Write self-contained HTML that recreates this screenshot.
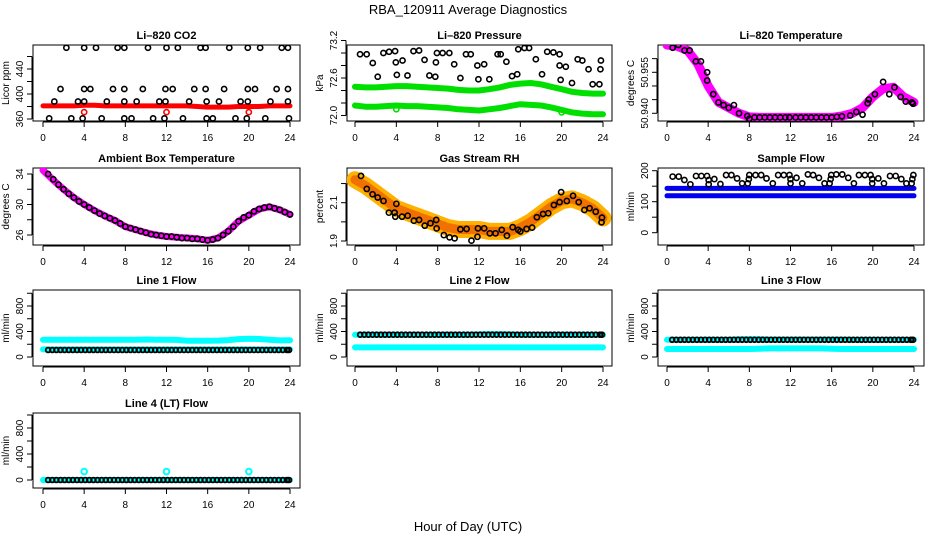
<!DOCTYPE html>
<html><head><meta charset="utf-8"><style>
html,body{margin:0;padding:0;background:#fff;}
svg{display:block;font-family:"Liberation Sans",sans-serif;}
</style></head><body>
<svg id="chart" width="936" height="540" viewBox="0 0 936 540" xmlns="http://www.w3.org/2000/svg">
<text x="468" y="14" text-anchor="middle" font-size="13">RBA_120911  Average Diagnostics</text>
<text x="468" y="531" text-anchor="middle" font-size="13">Hour of Day (UTC)</text>
</svg>
<script>
// ---------- data ----------
const hours = [0,1,2,3,4,5,6,7,8,9,10,11,12,13,14,15,16,17,18,19,20,21,22,23,24];
const xTicks = [0,4,8,12,16,20,24];

const co2Band = [381,381,381,381,382,382,381,381,381,381,381,381,381,381,381,380,379,379,379,380,380,380,381,381,381];
const co2T = [2.27,4.0,5.15,7.25,7.9,10.2,12.0,13.1,15.3,15.8,18.1,19.9,21.1,23.2,23.8,
  1.7,4.0,4.6,6.8,7.9,9.7,11.9,12.6,14.7,15.8,17.6,19.9,20.6,22.7,23.8,
  1.1,3.4,4.0,6.2,7.9,9.1,11.3,11.9,14.2,15.9,17.1,19.2,19.9,22.1,23.8,
  0.6,2.75,3.85,5.7,7.9,8.6,10.7,11.8,13.6,15.9,16.5,18.7,19.8,21.6,23.9];
const co2V = [474,474,474,474,474,474,474,474,474,474,474,474,474,474,474,
  408,408,408,408,408,408,408,408,408,408,408,408,408,408,408,
  388,388,388,388,388,388,388,388,388,388,388,388,388,388,388,
  361,361,361,361,361,361,361,361,361,361,361,361,361,361,361];
const co2OutT = [4,12,20];
const co2OutV = [371,371,371];

const presUpper = [72.46,72.45,72.45,72.46,72.47,72.47,72.46,72.45,72.44,72.43,72.41,72.40,72.40,72.42,72.45,72.49,72.51,72.52,72.50,72.46,72.42,72.38,72.36,72.35,72.35];
const presLower = [72.16,72.14,72.14,72.15,72.16,72.15,72.15,72.14,72.13,72.12,72.10,72.09,72.08,72.10,72.12,72.15,72.18,72.17,72.16,72.13,72.09,72.05,72.03,72.02,72.02];
const presT = [0.49,1.13,1.72,2.2,2.75,3.3,3.88,3.95,4.05,4.6,5.08,5.66,6.2,6.73,7.2,7.77,7.93,7.83,8.48,9.13,9.6,10.2,10.74,11.2,11.84,11.94,12.5,13.0,13.8,14.1,14.65,15.2,15.7,15.8,16.4,16.85,17.5,18.1,18.6,19.2,19.8,19.8,19.9,20.4,21.0,21.55,22.0,22.6,23.0,23.65,23.75,23.8];
const presV = [72.98,72.98,72.84,72.62,73.0,73.02,73.03,72.85,72.65,72.88,72.64,73.03,73.04,72.89,72.64,72.62,73.0,72.85,73.0,73.0,72.82,72.6,72.98,72.98,72.8,72.58,72.82,72.58,72.98,72.98,72.86,72.63,72.66,73.06,73.08,73.08,72.9,72.66,73.02,73.01,72.98,72.8,72.57,72.78,72.52,72.9,72.88,72.74,72.5,72.5,72.74,72.88];
const presOutT = [4,20];
const presOutV = [72.1,72.05];

const tempBand = [50.965,50.9645,50.963,50.958,50.950,50.944,50.942,50.940,50.9387,50.9385,50.9385,50.9385,50.9385,50.9385,50.9385,50.9385,50.9385,50.939,50.940,50.942,50.946,50.949,50.9495,50.946,50.944];
const tempT = [0.55,1.1,1.7,2.2,2.8,3.3,3.9,3.9,4.5,5.0,5.5,6.0,6.5,7.0,7.8,8.0,8.5,9.0,9.5,10.0,10.5,11.0,11.5,11.9,12.5,13.0,13.5,14.0,14.5,15.0,15.5,16.0,16.5,17.0,17.8,18.4,19.0,19.5,19.6,20.2,21.0,21.6,22.1,22.7,23.2,23.8,23.9];
const tempV = [50.964,50.965,50.963,50.963,50.959,50.959,50.955,50.952,50.947,50.944,50.943,50.942,50.943,50.940,50.939,50.938,50.9385,50.9385,50.9385,50.9385,50.9385,50.9385,50.9385,50.9385,50.9385,50.9385,50.9385,50.9385,50.9385,50.9385,50.9385,50.9385,50.9387,50.9389,50.9392,50.9405,50.9395,50.9437,50.945,50.947,50.9515,50.947,50.9495,50.946,50.9443,50.944,50.9435];

const ambBand = [34.5,33.2,32.0,30.9,30.0,29.2,28.5,27.9,27.1,26.7,26.3,26.0,25.8,25.7,25.6,25.5,25.3,25.6,26.5,27.8,28.6,29.4,29.7,29.3,28.7];
const ambT = [0.5,1,1.5,2,2.5,3,3.5,4,4.5,5,5.5,6,6.5,7,7.5,8,8.5,9,9.5,10,10.5,11,11.5,12,12.5,13,13.5,14,14.5,15,15.5,16,16.5,17,17.5,18,18.5,19,19.5,20,20.5,21,21.5,22,22.5,23,23.5,24];
const ambV = [34.0,33.3,32.6,32.0,31.4,30.9,30.4,30.0,29.6,29.2,28.8,28.5,28.2,27.9,27.5,27.1,26.9,26.7,26.5,26.3,26.1,26.0,25.9,25.8,25.8,25.7,25.6,25.6,25.5,25.5,25.4,25.3,25.4,25.6,26.0,26.5,27.1,27.8,28.3,28.6,29.1,29.4,29.6,29.7,29.5,29.3,29.0,28.7];

const rhBand = [2.22,2.19,2.15,2.11,2.07,2.05,2.03,2.01,1.99,1.97,1.96,1.96,1.96,1.95,1.95,1.95,1.97,2.0,2.04,2.08,2.11,2.12,2.1,2.07,2.02];
const rhT = [0.58,1.14,1.7,2.2,2.76,3.28,3.83,3.9,4.0,4.55,5.1,5.7,6.2,6.75,7.3,7.86,7.9,8.6,9.15,9.64,10.2,10.8,11.27,11.85,11.9,12.5,13.05,13.6,14.2,14.7,15.26,15.8,16.0,16.6,17.14,17.6,18.2,18.7,19.25,19.8,19.95,20.5,21.1,21.65,22.2,22.7,23.3,23.86,23.9];
const rhV = [2.24,2.172,2.144,2.127,2.109,2.048,2.048,2.027,2.094,2.027,2.032,2.006,2.01,1.98,1.993,2.01,1.966,1.931,1.919,1.914,1.961,1.963,1.902,1.922,1.966,1.966,1.94,1.94,1.958,1.928,1.972,1.958,1.95,1.963,1.97,2.024,2.041,2.045,2.088,2.103,2.155,2.109,2.136,2.103,2.062,2.071,2.053,1.998,2.022];

const sfUpper = [143,143,143,143,143,143,143,143,143,143,143,143,143,143,143,143,143,143,143,143,143,143,143,143,143];
const sfLower = [119,119,119,119,119,119,119,119,119,119,119,119,119,119,119,119,119,119,119,119,119,119,119,119,119];
const sfT = [0.55,1.14,1.69,2.27,2.82,3.34,3.89,4.05,4.05,4.6,5.19,5.74,6.26,6.81,7.3,7.85,7.95,8.0,8.6,9.15,9.67,10.28,10.8,11.35,11.9,12.0,12.0,12.58,13.14,13.69,14.2,14.76,15.31,15.8,15.9,15.96,16.45,17.03,17.61,18.16,18.65,19.23,19.78,19.94,19.94,20.53,21.08,21.67,22.22,22.77,23.26,23.77,23.84,23.94];
const sfV = [181,181,170,156,183,183,183,170,156,173,157,186,186,175,159,159,173,186,186,186,175,159,186,186,186,173,159,177,159,188,186,177,159,159,173,186,188,188,177,159,186,186,186,173,159,175,159,183,183,173,159,159,173,186];

const flowT = [0.5,0.9,1.3,1.7,2.1,2.5,2.9,3.3,3.7,4.1,4.5,4.9,5.3,5.7,6.1,6.5,6.9,7.3,7.7,8.1,8.5,8.9,9.3,9.7,10.1,10.5,10.9,11.3,11.7,12.1,12.5,12.9,13.3,13.7,14.1,14.5,14.9,15.3,15.7,16.1,16.5,16.9,17.3,17.7,18.1,18.5,18.9,19.3,19.7,20.1,20.5,20.9,21.3,21.7,22.1,22.5,22.9,23.3,23.7,23.9];
const l1Black = [110,110,110,110,110,110,110,110,110,110,110,110,110,110,110,110,110,110,110,110,110,110,110,110,110,110,110,110,110,110,110,110,110,110,110,110,110,110,110,110,110,110,110,110,110,110,110,110,110,110,110,110,110,110,110,110,110,110,110,110];
const l1CyanHi = [270,270,270,270,272,270,270,270,270,272,274,270,270,268,255,255,255,258,265,280,285,282,270,260,262];
const l1CyanLo = [120,120,120,120,120,120,120,120,120,120,120,120,120,120,120,120,120,120,120,120,120,120,120,120,120];
const l2Black = [350,350,350,350,350,350,350,350,350,350,350,350,350,350,350,350,350,350,350,350,350,350,350,350,350,350,350,350,350,350,350,350,350,350,350,350,350,350,350,350,350,350,350,350,350,350,350,350,350,350,350,350,350,350,350,350,350,350,350,350];
const l2CyanHi = [350,350,350,350,350,350,350,350,350,350,350,350,355,360,360,355,350,350,350,350,350,350,350,350,350];
const l2CyanLo = [150,150,150,150,150,150,150,150,150,150,150,150,150,150,150,150,150,150,150,150,150,150,150,150,150];
const l3Black = [270,270,270,270,270,270,270,270,270,270,270,270,270,270,270,270,270,270,270,270,270,270,270,270,270,270,270,270,270,270,270,270,270,270,270,270,270,270,270,270,270,270,270,270,270,270,270,270,270,270,270,270,270,270,270,270,270,270,270,270];
const l3CyanHi = [270,270,270,270,270,270,270,280,280,280,275,275,275,275,275,275,275,275,270,270,270,270,270,270,270];
const l3CyanLo = [125,125,125,125,125,125,125,125,125,130,135,135,135,135,135,135,130,125,125,125,125,125,125,125,125];
const l4Black = [0,0,0,0,0,0,0,0,0,0,0,0,0,0,0,0,0,0,0,0,0,0,0,0,0,0,0,0,0,0,0,0,0,0,0,0,0,0,0,0,0,0,0,0,0,0,0,0,0,0,0,0,0,0,0,0,0,0,0,0];
const l4Cyan = [0,0,0,0,0,0,0,0,0,0,0,0,0,0,0,0,0,0,0,0,0,0,0,0,0];
const l4OutT = [4,12,20];
const l4OutV = [130,130,130];

// ---------- helpers ----------
const svg = document.getElementById('chart');
const NS = 'http://www.w3.org/2000/svg';
function mk(tag, attrs, parent) {
  const e = document.createElementNS(NS, tag);
  for (const k in attrs) e.setAttribute(k, attrs[k]);
  (parent || svg).appendChild(e);
  return e;
}
const cols = [{l:33,r:300,x0:43,x24:290},{l:347,r:612,x0:355,x24:603},{l:658,r:924,x0:667,x24:914}];
const rows = [{t:45,b:121},{t:168,b:245},{t:290,b:366},{t:413,b:488}];

function panel(name, title, ylabel, ci, ri, vA, pA, vB, pB, ticks, labels) {
  const c = cols[ci], r = rows[ri];
  const g = mk('g', {});
  
  
  const X = t => c.x0 + (t / 24) * (c.x24 - c.x0);
  const Y = v => pA + (v - vA) * (pB - pA) / (vB - vA);
  const bx = mk('rect', {x:c.l, y:r.t, width:c.r-c.l, height:r.b-r.t, fill:'none', stroke:'#000', 'stroke-width':1}, g);
  
  
  const tt = mk('text', {x:(c.l+c.r)/2, y:r.t-6, 'text-anchor':'middle', 'font-size':11, 'font-weight':'bold'}, g);
  tt.textContent = title;
  
  
  const yl = mk('text', {x:0, y:0, 'text-anchor':'middle', 'font-size':10, transform:`translate(${c.l-24},${(r.t+r.b)/2}) rotate(-90)`}, g);
  yl.textContent = ylabel;
  
  
  // x axis
  const xg = mk('g', {}, g);
  
  
  mk('line', {x1:X(0), x2:X(24), y1:r.b+1, y2:r.b+1, stroke:'#000'}, xg);
  xTicks.forEach(t => {
    mk('line', {x1:X(t), x2:X(t), y1:r.b+1, y2:r.b+6, stroke:'#000'}, xg);
    const lb = mk('text', {x:X(t), y:r.b+20, 'text-anchor':'middle', 'font-size':10}, xg);
    lb.textContent = t;
    
    
  });
  // y axis
  const yg = mk('g', {}, g);
  
  
  mk('line', {x1:c.l-1, x2:c.l-1, y1:Y(ticks[0]), y2:Y(ticks[ticks.length-1]), stroke:'#000'}, yg);
  ticks.forEach(v => {
    mk('line', {x1:c.l-6, x2:c.l-1, y1:Y(v), y2:Y(v), stroke:'#000'}, yg);
  });
  labels.forEach(v => {
    const lb = mk('text', {x:0, y:0, 'text-anchor':'middle', 'font-size':10, transform:`translate(${c.l-10},${Y(v)}) rotate(-90)`}, yg);
    lb.textContent = v;
    
    
  });
  const clip = 'clip-' + name;
  const cp = mk('clipPath', {id: clip}, g);
  mk('rect', {x:c.l, y:r.t, width:c.r-c.l, height:r.b-r.t}, cp);
  const plot = mk('g', {'clip-path': `url(#${clip})`}, g);
  return {X, Y, plot};
}
function band(p, name, ts, vs, color, w) {
  const pts = ts.map((t,i) => p.X(t).toFixed(1) + ',' + p.Y(vs[i]).toFixed(1)).join(' ');
  const pl = mk('polyline', {points:pts, fill:'none', stroke:color, 'stroke-width':w, 'stroke-linejoin':'round', 'stroke-linecap':'round'}, p.plot);
  
  
}
function circles(p, name, ts, vs, color, r, sw) {
  const g = mk('g', {}, p.plot);
  
  
  ts.forEach((t,i) => {
    mk('circle', {cx:p.X(t), cy:p.Y(vs[i]), r:r||2.6, fill:'none', stroke:color, 'stroke-width':sw||1.6}, g);
  });
}

// ---------- panels ----------
let p;
p = panel('co2', 'Li\u2013820 CO2', 'Licor ppm', 0, 0, 360, 119, 440, 69, [360,380,400,420,440,460], [360,400,440]);
band(p, 'co2-band', hours, co2Band, '#ff0000', 5);
circles(p, 'co2-outliers', co2OutT, co2OutV, '#ff0000');
circles(p, 'co2-hourly-points', co2T, co2V, '#000');

p = panel('pressure', 'Li\u2013820 Pressure', 'kPa', 1, 0, 72.0, 115.5, 73.2, 40.5, [72.0,72.2,72.4,72.6,72.8,73.0,73.2], ['72.0','72.6','73.2']);
band(p, 'pressure-upper-band', hours, presUpper, '#00e000', 6);
band(p, 'pressure-lower-band', hours, presLower, '#00e000', 6);
circles(p, 'pressure-outliers', presOutT, presOutV, '#00e000');
circles(p, 'pressure-hourly-points', presT, presV, '#000');

p = panel('li820-temp', 'Li\u2013820 Temperature', 'degrees C', 2, 0, 50.940, 113.3, 50.955, 72.3, [50.940,50.945,50.950,50.955,50.960], ['50.940','50.955']);
band(p, 'temperature-band', hours, tempBand, '#ff00ff', 9);
circles(p, 'temperature-hourly-points', tempT, tempV, '#000');

p = panel('ambient', 'Ambient Box Temperature', 'degrees C', 0, 1, 26, 235, 34, 174, [26,28,30,32,34], [26,30,34]);
band(p, 'ambient-band', hours, ambBand, '#ff00ff', 7);
circles(p, 'ambient-hourly-points', ambT, ambV, '#000');

p = panel('rh', 'Gas Stream RH', 'percent', 1, 1, 1.9, 241, 2.1, 202.7, [1.9,2.0,2.1,2.2], ['1.9','2.1']);
band(p, 'rh-band-outer', hours, rhBand, '#ffb000', 17);
band(p, 'rh-band-inner', hours, rhBand, '#f07000', 9);
circles(p, 'rh-hourly-points', rhT, rhV, '#000');

p = panel('sample-flow', 'Sample Flow', 'ml/min', 2, 1, 0, 232.7, 200, 170.7, [0,50,100,150,200], [0,100,200]);
band(p, 'sample-flow-upper-band', hours, sfUpper, '#0000ee', 5);
band(p, 'sample-flow-lower-band', hours, sfLower, '#0000ee', 5);
circles(p, 'sample-flow-hourly-points', sfT, sfV, '#000');

p = panel('line1', 'Line 1 Flow', 'ml/min', 0, 2, 0, 357, 800, 306, [0,200,400,600,800,1000], [0,400,800]);
band(p, 'line1-high-band', hours, l1CyanHi, '#00ffff', 6);
band(p, 'line1-low-band', hours, l1CyanLo, '#00ffff', 6);
circles(p, 'line1-hourly-points', flowT, l1Black, '#000', 2.4, 1.8);

p = panel('line2', 'Line 2 Flow', 'ml/min', 1, 2, 0, 357, 800, 306, [0,200,400,600,800,1000], [0,400,800]);
band(p, 'line2-high-band', hours, l2CyanHi, '#00ffff', 6);
band(p, 'line2-low-band', hours, l2CyanLo, '#00ffff', 6);
circles(p, 'line2-hourly-points', flowT, l2Black, '#000', 2.4, 1.8);

p = panel('line3', 'Line 3 Flow', 'ml/min', 2, 2, 0, 357, 800, 306, [0,200,400,600,800,1000], [0,400,800]);
band(p, 'line3-high-band', hours, l3CyanHi, '#00ffff', 6);
band(p, 'line3-low-band', hours, l3CyanLo, '#00ffff', 6);
circles(p, 'line3-hourly-points', flowT, l3Black, '#000', 2.4, 1.8);

p = panel('line4', 'Line 4 (LT) Flow', 'ml/min', 0, 3, 0, 480, 800, 428, [0,200,400,600,800,1000], [0,400,800]);
band(p, 'line4-band', hours, l4Cyan, '#00ffff', 6);
circles(p, 'line4-outliers', l4OutT, l4OutV, '#00ffff', 2.8, 2);
circles(p, 'line4-hourly-points', flowT, l4Black, '#000', 2.4, 1.8);
</script>
</body></html>
